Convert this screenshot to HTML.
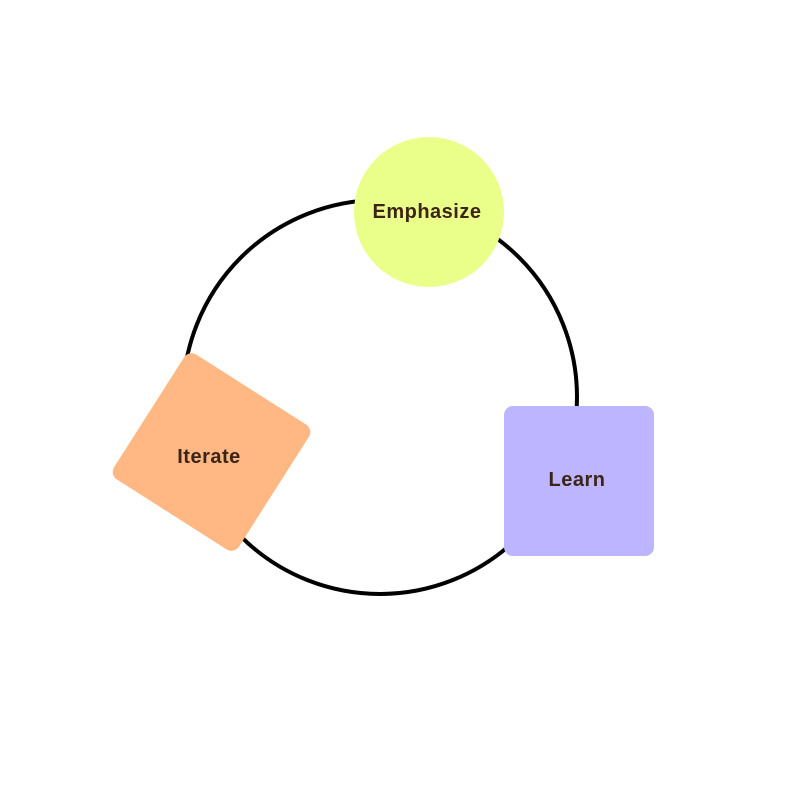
<!DOCTYPE html>
<html><head><style>
html,body{margin:0;padding:0;background:#fff;}
body{width:787px;height:792px;position:relative;overflow:hidden;font-family:"Liberation Sans",sans-serif;}
</style></head><body>
<svg width="787" height="792" viewBox="0 0 787 792" xmlns="http://www.w3.org/2000/svg">
<circle cx="380" cy="397" r="197" fill="none" stroke="#000" stroke-width="4"/>
<circle cx="429" cy="212" r="75" fill="#EAFE8A"/>
<text x="427" y="218" text-anchor="middle" font-family="Liberation Sans, sans-serif" font-weight="bold" font-size="20" letter-spacing="0.5" fill="#3D2418">Emphasize</text>
<rect x="504" y="406" width="150" height="150" rx="9" fill="#BDB5FF"/>
<text x="577" y="486" text-anchor="middle" font-family="Liberation Sans, sans-serif" font-weight="bold" font-size="20" letter-spacing="0.5" fill="#3D2418">Learn</text>
<g transform="translate(211.5,452) rotate(32.5)">
<rect x="-74" y="-74" width="148" height="148" rx="9" fill="#FFB884"/>
</g>
<text x="209" y="463" text-anchor="middle" font-family="Liberation Sans, sans-serif" font-weight="bold" font-size="20" letter-spacing="0.5" fill="#3D2418">Iterate</text>
</svg>
</body></html>
